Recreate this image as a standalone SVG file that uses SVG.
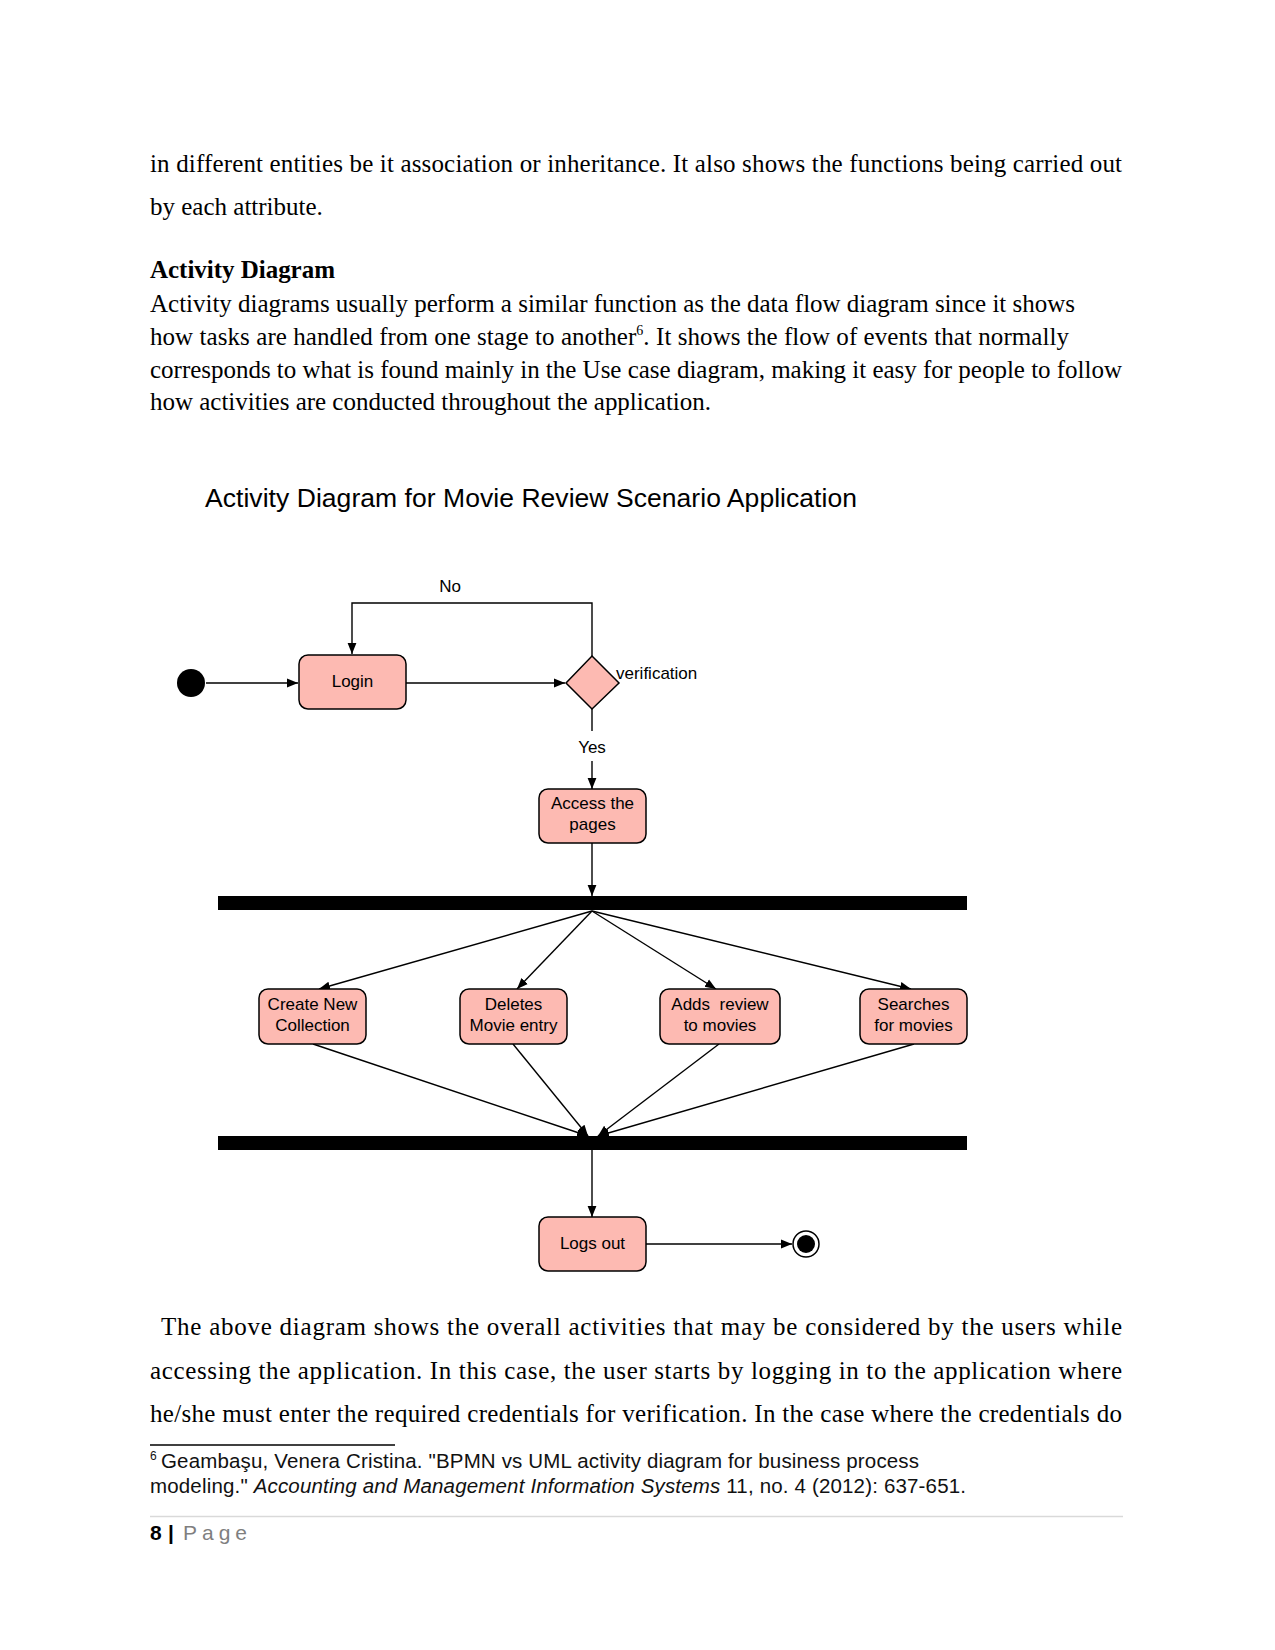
<svg xmlns="http://www.w3.org/2000/svg" width="1275" height="1650" viewBox="0 0 1275 1650">
<defs>
<marker id="arr" viewBox="0 0 10 10" refX="10" refY="5" markerWidth="11" markerHeight="11" markerUnits="userSpaceOnUse" orient="auto">
<path d="M0,1 L10,5 L0,9 z" fill="#000"/>
</marker>
<style>
.body{font-family:"Liberation Serif","Times New Roman",serif;font-size:25px;fill:#000}
.lbl{font-family:"Liberation Sans",Arial,sans-serif;font-size:17px;fill:#000}
.node{fill:#FDBAB2;stroke:#000;stroke-width:1.5}
.conn{fill:none;stroke:#000;stroke-width:1.4}
.fn{font-family:"Liberation Sans",Arial,sans-serif;font-size:20.5px;fill:#111}
.sup{font-family:"Liberation Sans",Arial,sans-serif;font-size:12px;fill:#111}
</style>
</defs>
<rect width="1275" height="1650" fill="#fff"/>

<g id="text-top">
<text class="body" x="150" y="172" textLength="972" lengthAdjust="spacing">in different entities be it association or inheritance. It also shows the functions being carried out</text>
<text class="body" x="150" y="215">by each attribute.</text>
<text class="body" x="150" y="278" font-weight="bold" textLength="185" lengthAdjust="spacing">Activity Diagram</text>
<text class="body" x="150" y="312" textLength="925" lengthAdjust="spacing">Activity diagrams usually perform a similar function as the data flow diagram since it shows</text>
<text class="body" x="150" y="345" textLength="919" lengthAdjust="spacing">how tasks are handled from one stage to another<tspan style="font-size:14px" dy="-10">6</tspan><tspan dy="10">.  It shows the flow of events that normally</tspan></text>
<text class="body" x="150" y="378" textLength="972" lengthAdjust="spacing">corresponds to what is found mainly in the Use case diagram, making it easy for people to follow</text>
<text class="body" x="150" y="410" textLength="561" lengthAdjust="spacing">how activities are conducted throughout the application.</text>
</g>

<text id="title" x="205" y="507" font-family="'Liberation Sans',Arial,sans-serif" font-size="26.5" fill="#000" textLength="652" lengthAdjust="spacing">Activity Diagram for Movie Review Scenario Application</text>

<g id="connectors">
<line class="conn" x1="206" y1="683" x2="298" y2="683" marker-end="url(#arr)"/>
<line class="conn" x1="406" y1="683" x2="565" y2="683" marker-end="url(#arr)"/>
<polyline class="conn" points="592,656 592,603 352,603 352,654" marker-end="url(#arr)"/>
<line class="conn" x1="592" y1="709" x2="592" y2="731"/>
<line class="conn" x1="592" y1="761" x2="592" y2="789" marker-end="url(#arr)"/>
<line class="conn" x1="592" y1="843" x2="592" y2="896" marker-end="url(#arr)"/>
<line class="conn" x1="592" y1="911" x2="319" y2="989" marker-end="url(#arr)"/>
<line class="conn" x1="592" y1="911" x2="517" y2="989" marker-end="url(#arr)"/>
<line class="conn" x1="592" y1="911" x2="716" y2="989" marker-end="url(#arr)"/>
<line class="conn" x1="592" y1="911" x2="911" y2="989" marker-end="url(#arr)"/>
<line class="conn" x1="313" y1="1044" x2="588" y2="1136" marker-end="url(#arr)"/>
<line class="conn" x1="513" y1="1044" x2="588" y2="1136" marker-end="url(#arr)"/>
<line class="conn" x1="719" y1="1044" x2="598" y2="1136" marker-end="url(#arr)"/>
<line class="conn" x1="914" y1="1044" x2="598" y2="1136" marker-end="url(#arr)"/>
<line class="conn" x1="592" y1="1150" x2="592" y2="1217" marker-end="url(#arr)"/>
<line class="conn" x1="646" y1="1244" x2="792" y2="1244" marker-end="url(#arr)"/>
</g>

<g id="labels">
<text class="lbl" x="450" y="592" text-anchor="middle">No</text>
<text class="lbl" x="616" y="679">verification</text>
<text class="lbl" x="592" y="753" text-anchor="middle">Yes</text>
</g>

<g id="start"><circle cx="191" cy="683" r="14" fill="#000"/></g>

<g id="login">
<rect class="node" x="299" y="655" width="107" height="54" rx="9"/>
<text class="lbl" x="352.5" y="687" text-anchor="middle">Login</text>
</g>

<g id="verification">
<polygon class="node" points="592,656 619,683 592,709 566,683"/>
</g>

<g id="access">
<rect class="node" x="539" y="789" width="107" height="54" rx="9"/>
<text class="lbl" x="592.5" y="809" text-anchor="middle">Access the</text>
<text class="lbl" x="592.5" y="830" text-anchor="middle">pages</text>
</g>

<g id="fork"><rect x="218" y="896" width="749" height="14" fill="#000"/></g>

<g id="create">
<rect class="node" x="259" y="989" width="107" height="55" rx="9"/>
<text class="lbl" x="312.5" y="1010" text-anchor="middle">Create New</text>
<text class="lbl" x="312.5" y="1031" text-anchor="middle">Collection</text>
</g>

<g id="deletes">
<rect class="node" x="460" y="989" width="107" height="55" rx="9"/>
<text class="lbl" x="513.5" y="1010" text-anchor="middle">Deletes</text>
<text class="lbl" x="513.5" y="1031" text-anchor="middle">Movie entry</text>
</g>

<g id="adds">
<rect class="node" x="660" y="989" width="120" height="55" rx="9"/>
<text class="lbl" x="720" y="1010" text-anchor="middle" xml:space="preserve">Adds  review</text>
<text class="lbl" x="720" y="1031" text-anchor="middle">to movies</text>
</g>

<g id="searches">
<rect class="node" x="860" y="989" width="107" height="55" rx="9"/>
<text class="lbl" x="913.5" y="1010" text-anchor="middle">Searches</text>
<text class="lbl" x="913.5" y="1031" text-anchor="middle">for movies</text>
</g>

<g id="join"><rect x="218" y="1136" width="749" height="14" fill="#000"/></g>

<g id="logout">
<rect class="node" x="539" y="1217" width="107" height="54" rx="9"/>
<text class="lbl" x="592.5" y="1249" text-anchor="middle">Logs out</text>
</g>

<g id="end">
<circle cx="806" cy="1244" r="13" fill="#fff" stroke="#000" stroke-width="1.5"/>
<circle cx="806" cy="1244" r="9" fill="#000"/>
</g>

<g id="text-bottom">
<text class="body" x="161" y="1335" textLength="961" lengthAdjust="spacing">The above diagram shows the overall activities that may be considered by the users while</text>
<text class="body" x="150" y="1379" textLength="972" lengthAdjust="spacing">accessing the application. In this case, the user starts by logging in to the application where</text>
<text class="body" x="150" y="1422" textLength="972" lengthAdjust="spacing">he/she must enter the required credentials for verification. In the case where the credentials do</text>
<line x1="150" y1="1445" x2="395" y2="1445" stroke="#000" stroke-width="1.5"/>
<text class="sup" x="150" y="1460">6</text>
<text class="fn" x="161" y="1468" textLength="758" lengthAdjust="spacing">Geambaşu, Venera Cristina. "BPMN vs UML activity diagram for business process</text>
<text class="fn" x="150" y="1493" textLength="816" lengthAdjust="spacing">modeling." <tspan font-style="italic">Accounting and Management Information Systems</tspan> 11, no. 4 (2012): 637-651.</text>
<line x1="150" y1="1516.5" x2="1123" y2="1516.5" stroke="#d9d9d9" stroke-width="1.5"/>
<text x="150" y="1540" font-family="'Liberation Sans',Arial,sans-serif" font-size="21" font-weight="bold" fill="#000">8</text>
<text x="168" y="1540" font-family="'Liberation Sans',Arial,sans-serif" font-size="21" font-weight="bold" fill="#000">|</text>
<text x="183" y="1540" font-family="'Liberation Sans',Arial,sans-serif" font-size="21" fill="#7f7f7f" textLength="64" lengthAdjust="spacing">Page</text>
</g>
</svg>
